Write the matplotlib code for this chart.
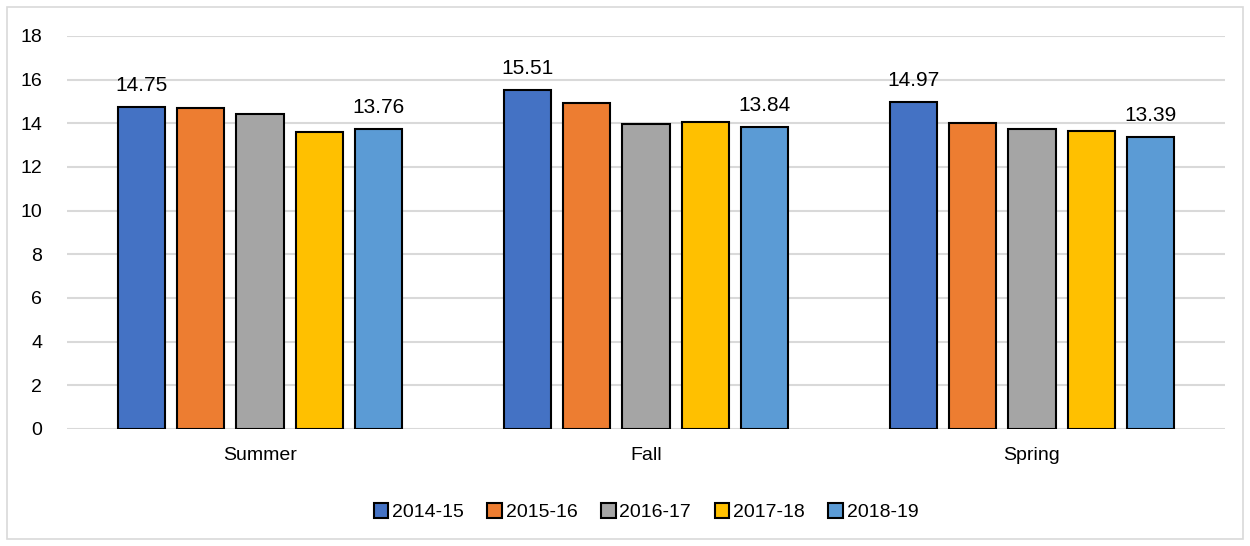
import numpy as np
import matplotlib.pyplot as plt
from matplotlib.patches import Rectangle

plt.rcParams['font.family'] = ['Liberation Sans', 'DejaVu Sans']

# data
seasons = ['Summer', 'Fall', 'Spring']
years = ['2014-15', '2015-16', '2016-17', '2017-18', '2018-19']
v2014 = [14.75, 15.51, 14.97]
v2015 = [14.68, 14.93, 14.02]
v2016 = [14.41, 13.97, 13.74]
v2017 = [13.60, 14.06, 13.65]
v2018 = [13.76, 13.84, 13.39]
series = [v2014, v2015, v2016, v2017, v2018]
colors = ['#4472C4', '#ED7D31', '#A5A5A5', '#FFC000', '#5B9BD5']

fig = plt.figure(figsize=(12.5, 5.46), dpi=100)
ax = fig.add_axes([0.0536, 0.2143, 0.9264, 0.7198])

x = np.arange(len(seasons))
step = 0.153
width = 0.122
for i, (vals, c) in enumerate(zip(series, colors)):
    pos = x + (i - 2) * step
    ax.bar(pos, vals, width, color=c, edgecolor='black', linewidth=1.5,
           label=years[i], zorder=3)
    if i == 0 or i == 4:
        for p, v in zip(pos, vals):
            ax.text(p, v + 0.55, f'{v:.2f}', ha='center', va='bottom', fontsize=15)

ax.set_xlim(-0.5, 2.5)
ax.set_ylim(0, 18)
ax.set_yticks(range(0, 19, 2))
ax.set_xticks(x)
ax.set_xticklabels(seasons)
ax.tick_params(axis='both', length=0, labelsize=14)
ax.tick_params(axis='y', pad=18)
ax.tick_params(axis='x', pad=13)
ax.grid(axis='y', color='#D9D9D9', linewidth=1.5, zorder=0)
for s in ax.spines.values():
    s.set_visible(False)

ax.legend(loc='upper center', bbox_to_anchor=(0.5, -0.145), ncol=5, frameon=False,
          fontsize=14, handlelength=0.75, handleheight=0.75, handletextpad=0.2,
          columnspacing=1.2)

fig.patches.append(Rectangle((0.0056, 0.0128), 0.9888, 0.9744, transform=fig.transFigure,
                             fill=False, edgecolor='#D9D9D9', linewidth=1.2))

fig.savefig('out.png', dpi=100)
